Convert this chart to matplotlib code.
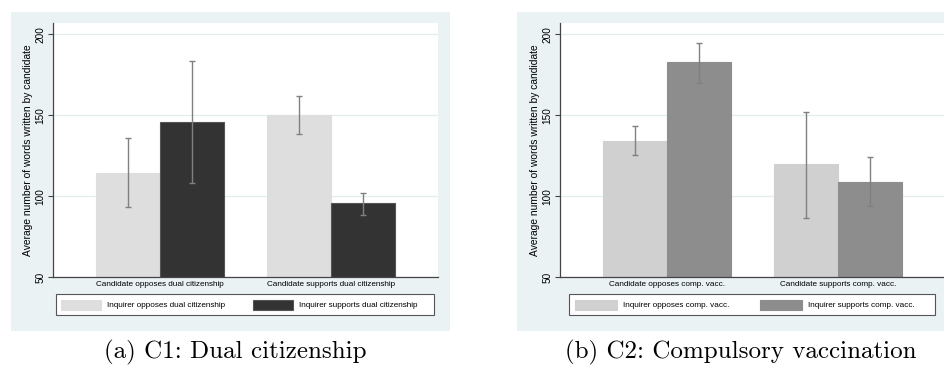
import matplotlib.pyplot as plt
import numpy as np
from matplotlib.patches import Rectangle

# panel (a): dual citizenship
groups_a = ["Candidate opposes dual citizenship", "Candidate supports dual citizenship"]
series_a = ["Inquirer opposes dual citizenship", "Inquirer supports dual citizenship"]
opp_a = [114.5, 150.0]
opp_a_lo = [93.3, 138.4]
opp_a_hi = [135.7, 161.9]
sup_a = [146.0, 95.5]
sup_a_lo = [108.3, 88.5]
sup_a_hi = [183.5, 101.9]

# panel (b): compulsory vaccination
groups_b = ["Candidate opposes comp. vacc.", "Candidate supports comp. vacc."]
series_b = ["Inquirer opposes comp. vacc.", "Inquirer supports comp. vacc."]
opp_b = [134.2, 119.6]
opp_b_lo = [125.2, 86.5]
opp_b_hi = [143.5, 152.0]
sup_b = [182.7, 108.9]
sup_b_lo = [169.9, 93.7]
sup_b_hi = [194.8, 124.0]

captions = ["(a) C1: Dual citizenship", "(b) C2: Compulsory vaccination"]
yticks = [50, 100, 150, 200]

W, H = 944, 368
fig = plt.figure(figsize=(W / 100, H / 100), dpi=100)
plt.rcParams['font.family'] = ['Liberation Sans', 'DejaVu Sans']
BG = '#eaf2f3'


def fx(px):
    return px / W


def fy(py):
    return 1 - py / H


def panel(x0, ax_left, groups, series, opp, opp_lo, opp_hi, sup, sup_lo, sup_hi,
          c_opp, c_sup, edge_sup, leg_box, sw_x, sw_w, caption, cap_x):
    fig.patches.append(Rectangle((fx(x0), fy(331)), fx(439), 319 / H,
                                 transform=fig.transFigure, facecolor=BG,
                                 edgecolor='none', zorder=-5))
    ax = fig.add_axes([fx(ax_left), fy(277), fx(385), 254 / H])
    ax.set_facecolor('white')
    x = np.arange(len(groups))
    w = 0.374
    b1 = ax.bar(x - w / 2, opp, w, color=c_opp, edgecolor=c_opp, linewidth=0.8, zorder=2)
    b2 = ax.bar(x + w / 2, sup, w, color=c_sup, edgecolor=edge_sup, linewidth=0.8, zorder=2)
    for xs, v, lo, hi in [(x - w / 2, opp, opp_lo, opp_hi), (x + w / 2, sup, sup_lo, sup_hi)]:
        v = np.array(v)
        ax.errorbar(xs, v, yerr=[v - np.array(lo), np.array(hi) - v], fmt='none',
                    ecolor='#808080', elinewidth=1, capsize=2.2, capthick=1, zorder=3)
    ax.set_xlim(-0.626, 1.626)
    ax.set_ylim(50, 207)
    ax.set_yticks(yticks)
    ax.set_yticklabels([str(t) for t in yticks], rotation=90, va='center', fontsize=7.2)
    ax.set_xticks(x)
    ax.set_xticklabels(groups, fontsize=5.9)
    ax.tick_params(axis='x', length=0, pad=3)
    ax.tick_params(axis='y', length=3.5, width=0.8, color='#444444', pad=2)
    ax.yaxis.grid(True, color='#e3edef', linewidth=0.9, zorder=0)
    ax.set_axisbelow(True)
    for s in ['top', 'right']:
        ax.spines[s].set_visible(False)
    for s in ['left', 'bottom']:
        ax.spines[s].set_color('#444444')
        ax.spines[s].set_linewidth(0.9)
    ax.set_ylabel("Average number of words written by candidate", fontsize=7.4, labelpad=2)

    # legend box and its two entries
    lx0, lx1 = leg_box
    fig.patches.append(Rectangle((fx(lx0), fy(315)), fx(lx1 - lx0), 21 / H,
                                 transform=fig.transFigure, facecolor='white',
                                 edgecolor='#555555', linewidth=0.8, zorder=-4))
    fs = 5.9
    fs_px = fs * 100 / 72
    for i, (h, lab) in enumerate(zip([b1, b2], series)):
        leg = fig.legend([h], [lab], loc='center left',
                         bbox_to_anchor=(fx(sw_x[i]), fy(304.7)),
                         bbox_transform=fig.transFigure, fontsize=fs, frameon=False,
                         handlelength=sw_w / fs_px, handleheight=12 / fs_px,
                         handletextpad=6 / fs_px, borderpad=0, borderaxespad=0)
    fig.text(fx(cap_x), fy(352), caption, ha='center', va='center', fontsize=18,
             family='cmr10')
    return ax


panel(11, 53, groups_a, series_a, opp_a, opp_a_lo, opp_a_hi, sup_a, sup_a_lo, sup_a_hi,
      '#dedede', '#333333', '#555555', (56, 434), (61, 253), 40, captions[0], 235)
panel(517, 560, groups_b, series_b, opp_b, opp_b_lo, opp_b_hi, sup_b, sup_b_lo, sup_b_hi,
      '#d0d0d0', '#8d8d8d', '#8d8d8d', (569, 935), (575, 760), 42, captions[1], 741)

fig.savefig('out.png', dpi=100, facecolor='white')
